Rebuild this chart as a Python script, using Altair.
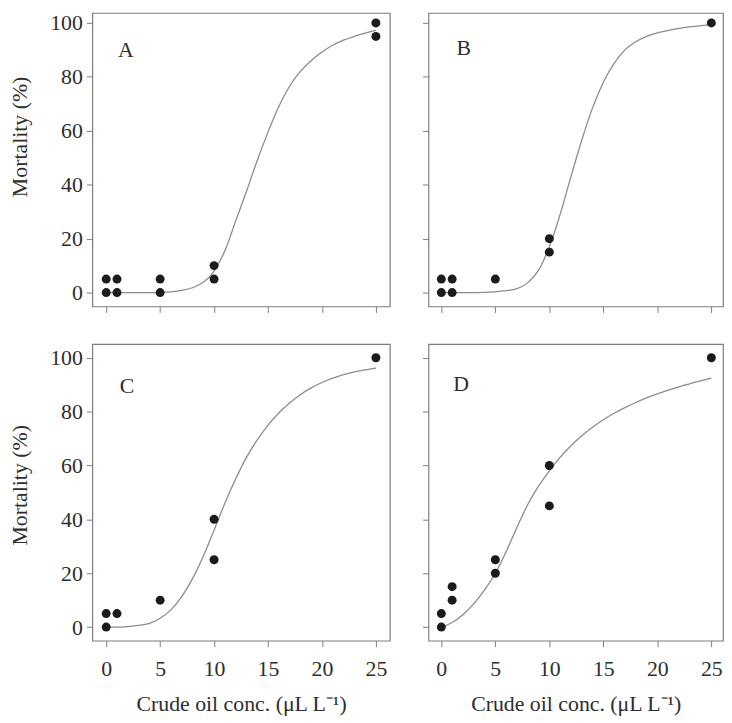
import altair as alt
import pandas as pd

FONT = "Liberation Serif"
TEXT = "#2e2e2e"
FRAME = "#7d7d7d"
CURVE = "#8c8c8c"
DOT = "#1b1b1b"

x_ticks = [0, 5, 10, 15, 20, 25]
y_ticks = [0, 20, 40, 60, 80, 100]
x_title = "Crude oil conc. (\u03bcL L\u207b\u00b9)"
y_title = "Mortality (%)"

# observed mortality (%) per concentration
a_x = [0, 0, 1, 1, 5, 5, 10, 10, 25, 25]
a_y = [0, 5, 0, 5, 0, 5, 5, 10, 95, 100]
b_x = [0, 0, 1, 1, 5, 10, 10, 25]
b_y = [0, 5, 0, 5, 5, 15, 20, 100]
c_x = [0, 0, 1, 5, 10, 10, 25]
c_y = [0, 5, 5, 10, 25, 40, 100]
d_x = [0, 0, 1, 1, 5, 5, 10, 10, 25]
d_y = [0, 5, 10, 15, 20, 25, 45, 60, 100]

# fitted curves
a_cx = [0, 2, 4, 5, 6, 7, 8, 9, 10, 11, 12, 13, 14, 15, 16, 17, 18, 19, 20, 21, 22, 23, 24, 25]
a_cy = [0, 0, 0, 0.1, 0.3, 0.8, 1.8, 3.8, 8, 15.5, 26.5, 37.5, 49, 59.5, 69, 76.5, 82, 86, 89.2, 91.7, 93.6, 95, 96.2, 97.2]
b_cx = [0, 2, 4, 5, 6, 7, 8, 9, 10, 11, 12, 13, 14, 15, 16, 17, 18, 19, 20, 22, 25]
b_cy = [0, 0, 0.1, 0.3, 0.7, 1.5, 3.6, 8.3, 17, 29, 43, 56.5, 68.5, 78, 85, 90, 93, 95, 96.3, 98, 99.4]
c_cx = [0, 1, 2, 3, 4, 5, 6, 7, 8, 9, 10, 11, 12, 13, 14, 15, 16, 17, 18, 19, 20, 22, 24, 25]
c_cy = [0, 0, 0.2, 0.6, 1.4, 3.3, 6.4, 11.3, 18, 26.3, 36, 46, 55, 63, 69.5, 75, 79.5, 83.2, 86.3, 88.8, 90.8, 93.7, 95.5, 96.2]
d_cx = [0, 1, 2, 3, 4, 5, 6, 7, 8, 9, 10, 11, 12, 13, 14, 15, 16, 17, 18, 19, 20, 22, 24, 25]
d_cy = [0, 1.7, 4.6, 8.6, 13.8, 20, 28, 37, 45.5, 52.3, 58, 63, 67.3, 71, 74.2, 77, 79.4, 81.5, 83.4, 85.1, 86.6, 89.2, 91.4, 92.4]


def panel(letter, px, py, cx, cy, left, bottom, width, height, xdom, ydom,
          ytitle_y, lab_x, lab_y):
    xs = alt.Scale(domain=xdom, nice=False, zero=False)
    ys = alt.Scale(domain=ydom, nice=False, zero=False)
    xaxis_kw = dict(values=x_ticks, labels=bottom, labelPadding=12, labelFlush=False,
                    labelFont=FONT)
    if bottom:
        xaxis_kw.update(titleY=70, titleBaseline="alphabetic")
    yaxis_kw = dict(values=y_ticks, labels=left, labelPadding=4, labelFont=FONT)
    if left:
        yaxis_kw.update(titleX=-66, titleY=ytitle_y, titleBaseline="alphabetic")
    xt = x_title if bottom else None
    yt = y_title if left else None

    pts = pd.DataFrame({"x": px, "y": py})
    crv = pd.DataFrame({"x": cx, "y": cy})
    lab = pd.DataFrame({"t": [letter]})

    line = alt.Chart(crv).mark_line(
        color=CURVE, strokeWidth=1.3, interpolate="monotone"
    ).encode(
        x=alt.X("x:Q", scale=xs, axis=alt.Axis(**xaxis_kw), title=xt),
        y=alt.Y("y:Q", scale=ys, axis=alt.Axis(**yaxis_kw), title=yt),
    )
    dots = alt.Chart(pts).mark_circle(size=82, color=DOT, opacity=1).encode(
        x="x:Q", y="y:Q"
    )
    text = alt.Chart(lab).mark_text(
        font=FONT, fontSize=22, align="left", baseline="alphabetic", color=TEXT
    ).encode(x=alt.datum(lab_x), y=alt.datum(lab_y), text="t:N")
    return alt.layer(line, dots, text).properties(width=width, height=height)


xdom_l = [-1.29, 26.29]
xdom_r = [-1.19, 26.08]
ydom_top = [-5.15, 103.7]
ydom_bot = [-5.05, 105.05]

pA = panel("A", a_x, a_y, a_cx, a_cy, True, False, 300, 296, xdom_l, ydom_top, 124.5, 1.1, 87.2)
pB = panel("B", b_x, b_y, b_cx, b_cy, False, False, 297, 296, xdom_r, ydom_top, 124.5, 1.4, 88.0)
pC = panel("C", c_x, c_y, c_cx, c_cy, True, True, 300, 299, xdom_l, ydom_bot, 141.8, 1.25, 86.9)
pD = panel("D", d_x, d_y, d_cx, d_cy, False, True, 297, 299, xdom_r, ydom_bot, 141.8, 1.1, 87.7)

chart = alt.vconcat(
    alt.hconcat(pA, pB, spacing=30),
    alt.hconcat(pC, pD, spacing=30),
    spacing=29,
).properties(
    padding=0, background="white"
).configure_axis(
    labelFont=FONT, labelFontSize=22, labelColor=TEXT,
    titleFont=FONT, titleFontSize=22, titleFontWeight="normal", titleColor=TEXT,
    domain=False, grid=False, tickColor=FRAME, tickSize=6, tickWidth=1,
).configure_view(stroke=FRAME, strokeWidth=1.2)

chart.save("out.html", embed_options={"renderer": "svg", "actions": False})
